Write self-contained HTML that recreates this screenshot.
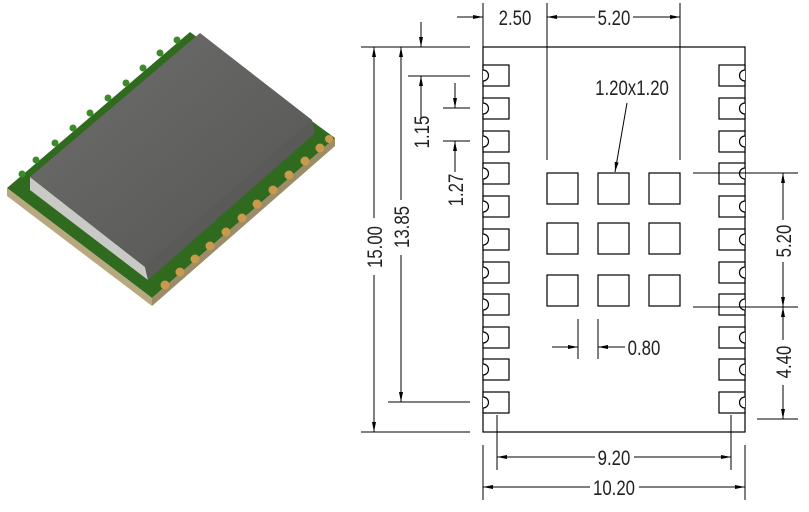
<!DOCTYPE html>
<html><head><meta charset="utf-8"><style>
html,body{margin:0;padding:0;background:#fff;}
svg{display:block}
text{font-family:"Liberation Sans",sans-serif;font-size:21px;fill:#222;}
</style></head><body>
<svg width="809" height="512" viewBox="0 0 809 512" xmlns="http://www.w3.org/2000/svg">
<defs>
<marker id="a" viewBox="0 0 10 6" refX="10" refY="3" markerWidth="10" markerHeight="6" orient="auto" markerUnits="userSpaceOnUse"><path d="M0,1 L10,3 L0,5 z" fill="#000"/></marker>
<linearGradient id="top" x1="0" y1="0" x2="1" y2="1"><stop offset="0" stop-color="#6e6e6c"/><stop offset="1" stop-color="#555553"/></linearGradient>
</defs>
<!-- photo -->
<polygon points="7,188 190,32 335,138 152,298" fill="#2f6a1e"/>
<polygon points="7,188 152,298 152,306 7,196" fill="#b8a880"/>
<polygon points="152,298 335,138 335,146 152,306" fill="#9c8c68"/>
<g fill="#c99a4c">
<circle cx="165" cy="285" r="4.5"/><circle cx="180" cy="272" r="4.5"/><circle cx="195" cy="259" r="4.5"/><circle cx="210" cy="246" r="4.5"/><circle cx="226" cy="232" r="4.5"/><circle cx="242" cy="218" r="4.5"/><circle cx="257" cy="204" r="4.5"/><circle cx="273" cy="190" r="4.5"/><circle cx="289" cy="175" r="4.5"/><circle cx="305" cy="161" r="4.5"/><circle cx="320" cy="148" r="4.5"/><circle cx="329" cy="139" r="4"/>
</g>
<g fill="#3c8a2a">
<circle cx="22" cy="174" r="3.5"/><circle cx="36" cy="160" r="3.5"/><circle cx="55" cy="143" r="3.5"/><circle cx="73" cy="128" r="3.5"/><circle cx="90" cy="113" r="3.5"/><circle cx="108" cy="98" r="3.5"/><circle cx="126" cy="83" r="3.5"/><circle cx="143" cy="68" r="3.5"/><circle cx="160" cy="53" r="3.5"/><circle cx="177" cy="40" r="3.5"/>
</g>
<polygon points="30,177 145,267 148,280 30,190" fill="#c9c9c6"/>
<polygon points="145,267 312,120 315,133 148,280" fill="#5a5a58"/>
<polygon points="30,177 200,33 312,120 145,267" fill="url(#top)"/>
<!-- drawing -->
<g stroke="#000" stroke-width="1.2" fill="none">
<rect x="483" y="47" width="262" height="385"/>
<g id="lp" fill="#fff">
<rect x="483" y="65" width="26" height="21"/><path d="M483,70 a5,5 0 0 1 0,11"/>
<rect x="483" y="98" width="26" height="21"/><path d="M483,103 a5,5 0 0 1 0,11"/>
<rect x="483" y="131" width="26" height="21"/><path d="M483,136 a5,5 0 0 1 0,11"/>
<rect x="483" y="163" width="26" height="21"/><path d="M483,168 a5,5 0 0 1 0,11"/>
<rect x="483" y="196" width="26" height="21"/><path d="M483,201 a5,5 0 0 1 0,11"/>
<rect x="483" y="229" width="26" height="21"/><path d="M483,234 a5,5 0 0 1 0,11"/>
<rect x="483" y="262" width="26" height="21"/><path d="M483,267 a5,5 0 0 1 0,11"/>
<rect x="483" y="294" width="26" height="21"/><path d="M483,299 a5,5 0 0 1 0,11"/>
<rect x="483" y="327" width="26" height="21"/><path d="M483,332 a5,5 0 0 1 0,11"/>
<rect x="483" y="359" width="26" height="21"/><path d="M483,364 a5,5 0 0 1 0,11"/>
<rect x="483" y="392" width="26" height="21"/><path d="M483,397 a5,5 0 0 1 0,11"/>
</g>
<use href="#lp" transform="translate(1228,0) scale(-1,1)"/>
<rect x="547" y="173" width="31" height="31"/><rect x="598" y="173" width="31" height="31"/><rect x="649" y="173" width="31" height="31"/>
<rect x="547" y="223" width="31" height="31"/><rect x="598" y="223" width="31" height="31"/><rect x="649" y="223" width="31" height="31"/>
<rect x="547" y="275" width="31" height="31"/><rect x="598" y="275" width="31" height="31"/><rect x="649" y="275" width="31" height="31"/>
</g>
<g stroke="#000" stroke-width="1" fill="none">
<line x1="483" y1="3" x2="483" y2="47"/><line x1="547" y1="3" x2="547" y2="160"/><line x1="680" y1="3" x2="680" y2="160"/>
<line x1="457" y1="17" x2="483" y2="17" marker-end="url(#a)"/>
<line x1="595" y1="17" x2="547" y2="17" marker-end="url(#a)"/>
<line x1="633" y1="17" x2="680" y2="17" marker-end="url(#a)"/>
<line x1="361" y1="47" x2="470" y2="47"/><line x1="361" y1="432" x2="470" y2="432"/><line x1="388" y1="402" x2="470" y2="402"/>
<line x1="374" y1="218" x2="374" y2="47" marker-end="url(#a)"/><line x1="374" y1="275" x2="374" y2="432" marker-end="url(#a)"/>
<line x1="401" y1="200" x2="401" y2="47" marker-end="url(#a)"/><line x1="401" y1="255" x2="401" y2="402" marker-end="url(#a)"/>
<line x1="421" y1="22" x2="421" y2="47" marker-end="url(#a)"/>
<line x1="408" y1="76" x2="470" y2="76"/><line x1="443" y1="108" x2="470" y2="108"/><line x1="443" y1="141" x2="470" y2="141"/>
<line x1="421" y1="118" x2="421" y2="76" marker-end="url(#a)"/>
<line x1="455" y1="83" x2="455" y2="108" marker-end="url(#a)"/>
<line x1="455" y1="172" x2="455" y2="141" marker-end="url(#a)"/>
<line x1="693" y1="173" x2="798" y2="173"/><line x1="693" y1="307" x2="798" y2="307"/><line x1="757" y1="419" x2="798" y2="419"/>
<line x1="783" y1="220" x2="783" y2="173" marker-end="url(#a)"/><line x1="783" y1="262" x2="783" y2="307" marker-end="url(#a)"/>
<line x1="783" y1="340" x2="783" y2="307" marker-end="url(#a)"/><line x1="783" y1="385" x2="783" y2="419" marker-end="url(#a)"/>
<line x1="497" y1="415" x2="497" y2="470"/><line x1="731" y1="415" x2="731" y2="470"/>
<line x1="483" y1="445" x2="483" y2="500"/><line x1="745" y1="445" x2="745" y2="500"/>
<line x1="595" y1="457" x2="497" y2="457" marker-end="url(#a)"/><line x1="634" y1="457" x2="731" y2="457" marker-end="url(#a)"/>
<line x1="590" y1="487" x2="483" y2="487" marker-end="url(#a)"/><line x1="639" y1="487" x2="745" y2="487" marker-end="url(#a)"/>
<line x1="578" y1="319" x2="578" y2="359"/><line x1="598" y1="319" x2="598" y2="359"/>
<line x1="552" y1="347" x2="578" y2="347" marker-end="url(#a)"/><line x1="625" y1="347" x2="598" y2="347" marker-end="url(#a)"/>
<line x1="627" y1="103" x2="615" y2="172" marker-end="url(#a)"/>
</g>
<g>
<text x="515" y="25" text-anchor="middle" transform="translate(515,0) scale(0.8,1) translate(-515,0)">2.50</text>
<text x="614" y="25" text-anchor="middle" transform="translate(614,0) scale(0.8,1) translate(-614,0)">5.20</text>
<text x="632" y="95" text-anchor="middle" transform="translate(632,0) scale(0.8,1) translate(-632,0)">1.20x1.20</text>
<text x="644" y="355" text-anchor="middle" transform="translate(644,0) scale(0.8,1) translate(-644,0)">0.80</text>
<text x="614" y="465" text-anchor="middle" transform="translate(614,0) scale(0.8,1) translate(-614,0)">9.20</text>
<text x="614" y="495" text-anchor="middle" transform="translate(614,0) scale(0.8,1) translate(-614,0)">10.20</text>
<text transform="translate(382,247) rotate(-90) scale(0.8,1)" text-anchor="middle">15.00</text>
<text transform="translate(409,227) rotate(-90) scale(0.8,1)" text-anchor="middle">13.85</text>
<text transform="translate(429,132) rotate(-90) scale(0.8,1)" text-anchor="middle">1.15</text>
<text transform="translate(463,190) rotate(-90) scale(0.8,1)" text-anchor="middle">1.27</text>
<text transform="translate(791,241) rotate(-90) scale(0.8,1)" text-anchor="middle">5.20</text>
<text transform="translate(791,362) rotate(-90) scale(0.8,1)" text-anchor="middle">4.40</text>
</g>
</svg>
</body></html>
